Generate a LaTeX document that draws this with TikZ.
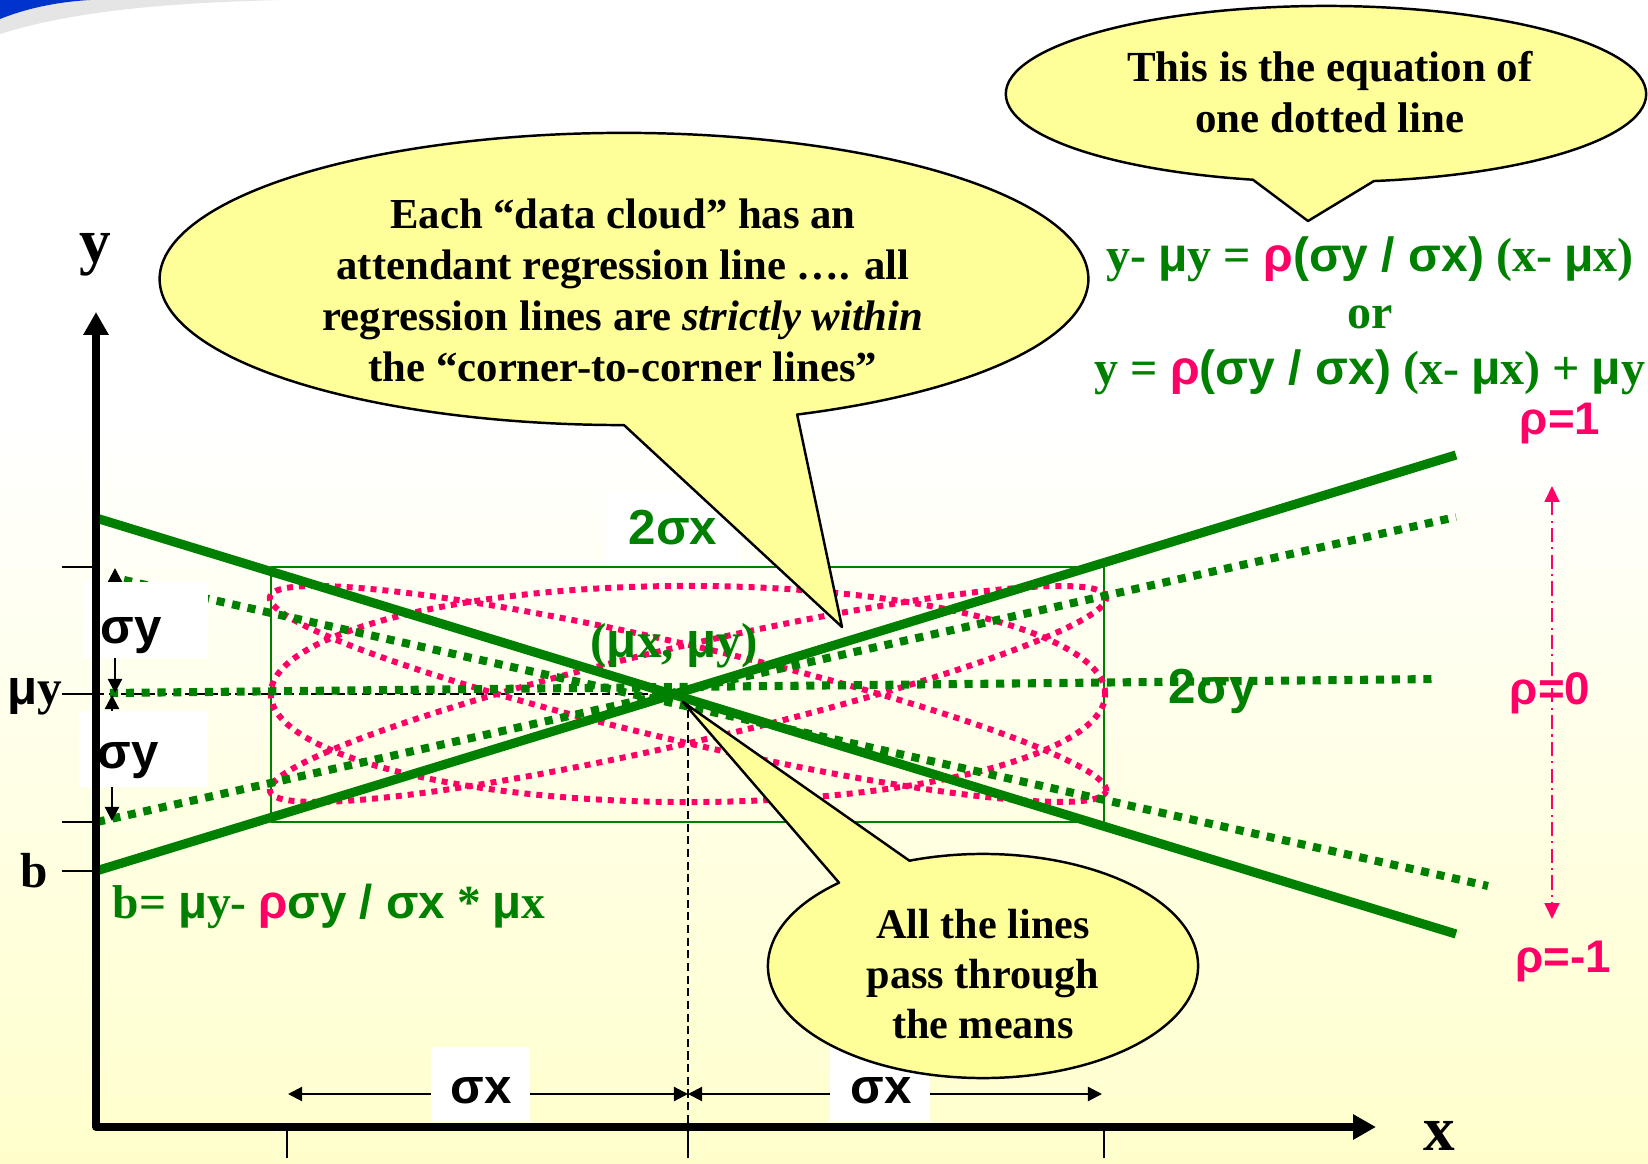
\documentclass[tikz,border=0pt]{standalone}
\usepackage{fontspec}
\setmainfont{Liberation Serif}
\newfontfamily\arialfont{Liberation Sans}
\usepackage{tikz}
\usetikzlibrary{arrows.meta,calc,positioning}
\definecolor{reggreen}{HTML}{008000}
\definecolor{regpink}{HTML}{FF0066}
\definecolor{regbubble}{HTML}{FFFF99}
\definecolor{regbg}{HTML}{FFFFCC}
\definecolor{regblue}{HTML}{0033CC}
\newcommand{\arl}[1]{{\arialfont #1}}

\begin{document}
\begin{tikzpicture}[x=0.01cm,y=-0.01cm,>=Stealth,line join=round,
  font=\bfseries,
  axisline/.style={line width=2.2pt,{Triangle[length=6.5pt,width=6.8pt]}-{Triangle[length=6.5pt,width=6.8pt]}},
  tickmark/.style={line width=0.5pt},
  guide/.style={line width=0.5pt,dash pattern=on 2.3pt off 1.3pt},
  cornerline/.style={reggreen,line width=2.6pt},
  regdots/.style={reggreen,line width=2.3pt,dash pattern=on 2.3pt off 2.2pt},
  cloudline/.style={regpink,line width=1.7pt,dash pattern=on 1.7pt off 1.7pt},
  dimarrow/.style={line width=0.6pt,{Triangle[length=4pt,width=4pt]}-{Triangle[length=4pt,width=4pt]}},
  bubblefill/.style={fill=regbubble,draw=black,line width=0.7pt},
  notetext/.style={align=center,inner sep=0pt,font={\fontsize{12.15pt}{14.5pt}\selectfont\bfseries}},
  symtext/.style={inner sep=0pt,font={\arialfont\bfseries\fontsize{14pt}{16pt}\selectfont}},
  serifsym/.style={inner sep=0pt,anchor=base,font={\fontsize{14pt}{16pt}\selectfont\bfseries}},
  rholabel/.style={inner sep=0pt,text=regpink,anchor=base,font={\arialfont\bfseries\fontsize{13pt}{15pt}\selectfont}}]
\path[use as bounding box] (0,0) rectangle (1648,1164);
\fill[white] (0,0) rectangle (1648,1164);
\shade[top color=white,bottom color=regbg] (0,420) rectangle (1648,1164);
% slide corner
\fill[black!10] (0,34) .. controls (70,12) and (160,3) .. (280,0) -- (0,0) -- cycle;
\fill[regblue] (0,19) .. controls (25,9) and (55,2) .. (90,0) -- (0,0) -- cycle;
\coordinate (O) at (96,1127);
\coordinate (ytip) at (96,312);
\coordinate (xtip) at (1376,1127);
\coordinate (mu) at (688,694);
\coordinate (muy) at (96,694);
\coordinate (mux) at (688,1127);
% 2sx by 2sy box
\draw[reggreen,line width=0.6pt] (271,567) rectangle (1104,822);
\foreach \ty in {567,694,822,871} \draw[tickmark] (62,\ty) -- (96,\ty);
\foreach \tx in {287,688,1104} \draw[tickmark] (\tx,1127) -- (\tx,1158);
\draw[guide] (muy) -- (mu) -- (mux);
% data clouds
\draw[cloudline] (mu) ellipse[x radius=4.17cm,y radius=1.08cm];
\draw[cloudline,rotate around={13.1:(mu)}] (mu) ellipse[x radius=4.29cm,y radius=0.48cm];
\draw[cloudline,rotate around={-13.1:(mu)}] (mu) ellipse[x radius=4.29cm,y radius=0.48cm];
% regression lines
\draw[cornerline] (96,871) -- (1456,455);
\draw[cornerline] (96,518) -- (1456,934);
\draw[regdots] (97,822) -- (1456,517);
\draw[regdots] (124,580) -- (1488,886);
\draw[regdots] (110,693) -- (1439,679);
% sigma markers
\draw[dimarrow] (115,568) -- (115,693);
\draw[dimarrow] (112,695) -- (112,821);
\fill[white] (83,582) rectangle (208,658);
\fill[white] (79,711) rectangle (208,787);
\node[symtext,anchor=base] (sigyup) at (131,643) {σy};
\node[symtext,anchor=base] (sigylow) at (128,768) {σy};
\draw[dimarrow] (688,1094) -- (288,1094);
\draw[dimarrow] (688,1094) -- (1102,1094);
\fill[white] (431,1047) rectangle (530,1122);
\fill[white] (830,1047) rectangle (930,1122);
\node[symtext,anchor=base] (sigxl) at (481,1103) {σx};
\node[symtext,anchor=base] (sigxr) at (881,1103) {σx};
\node[symtext,text=reggreen,fill=white,minimum width=1.33cm,minimum height=0.76cm] (twosx) at (673,528) {2σx};
\node[symtext,text=reggreen,anchor=base] (twosy) at (1213,703) {2σy};
\node[serifsym,text=reggreen] (means) at (674,657) {(\arl{μ}x, \arl{μ}y)};
% axes
\draw[axisline] (ytip) -- (O) -- (xtip);
\node[anchor=base,inner sep=0pt,font={\fontsize{18pt}{20pt}\selectfont\bfseries}] (ylab) at (95,263) {y};
\node[anchor=base,inner sep=0pt,font={\fontsize{18pt}{20pt}\selectfont\bfseries}] (xlab) at (1439,1150) {x};
\node[serifsym] (muylab) at (35,704) {\arl{μ}y};
\node[serifsym] (blab) at (34,887) {b};
\node[serifsym,anchor=base west,text=reggreen,font={\fontsize{13.5pt}{16pt}\selectfont\bfseries}] (bform) at (112,918)
  {b= \arl{μ}y- \arl{\textcolor{regpink}{ρ}σy / σx} * \arl{μ}x};
% callouts
\coordinate (cloudc) at (624,279);
\coordinate (cloudtip) at (842,627);
\draw[bubblefill] ($(cloudc)+(291.9:4.64cm and 1.46cm)$) arc[start angle=291.9,end angle=630,x radius=4.64cm,y radius=1.46cm] -- (cloudtip) -- cycle;
\node[notetext] (cloudnote) at (623,290)
  {Each “data cloud” has an\\attendant regression line …. all\\regression lines are \textit{strictly within}\\the “corner-to-corner lines”};
\coordinate (eqc) at (1326,94);
\coordinate (eqtip) at (1308,221);
\draw[bubblefill] ($(eqc)+(278.6:3.2cm and 0.88cm)$) arc[start angle=278.6,end angle=616.8,x radius=3.2cm,y radius=0.88cm] -- (eqtip) -- cycle;
\node[notetext,font={\fontsize{12.2pt}{14.6pt}\selectfont\bfseries}] (eqnote) at (1330,92) {This is the equation of\\one dotted line};
\coordinate (meanc) at (983,966);
\coordinate (meantip) at (683,702);
\draw[bubblefill] ($(meanc)+(132:2.15cm and 1.12cm)$) arc[start angle=132,end angle=470,x radius=2.15cm,y radius=1.12cm] -- (meantip) -- cycle;
\node[notetext,font={\fontsize{12pt}{14.2pt}\selectfont\bfseries}] (meannote) at (983,974) {All the lines\\pass through\\the means};
% equation and rho
\node[align=center,inner sep=0pt,text=reggreen,font={\fontsize{13.65pt}{16pt}\selectfont\bfseries}] (eqn) at (1370,316)
  {y- \arl{μ}y = \arl{\textcolor{regpink}{ρ}(σy / σx)} (x- \arl{μ}x)\\or\\y = \arl{\textcolor{regpink}{ρ}(σy / σx)} (x- \arl{μ}x) + \arl{μ}y};
\coordinate (rhotop) at (1552,486);
\coordinate (rhobot) at (1552,919);
\draw[regpink,line width=0.6pt,dash pattern=on 4pt off 1.5pt on 0.6pt off 1.5pt,{Triangle[length=4.5pt,width=4.2pt]}-{Triangle[length=4.5pt,width=4.2pt]}] (rhotop) -- (rhobot);
\node[rholabel] (rhoone) at (1560,435) {ρ=1};
\node[rholabel] (rhozero) at (1550,704) {ρ=0};
\node[rholabel] (rhominus) at (1563,972) {ρ=-1};
\end{tikzpicture}
\end{document}
